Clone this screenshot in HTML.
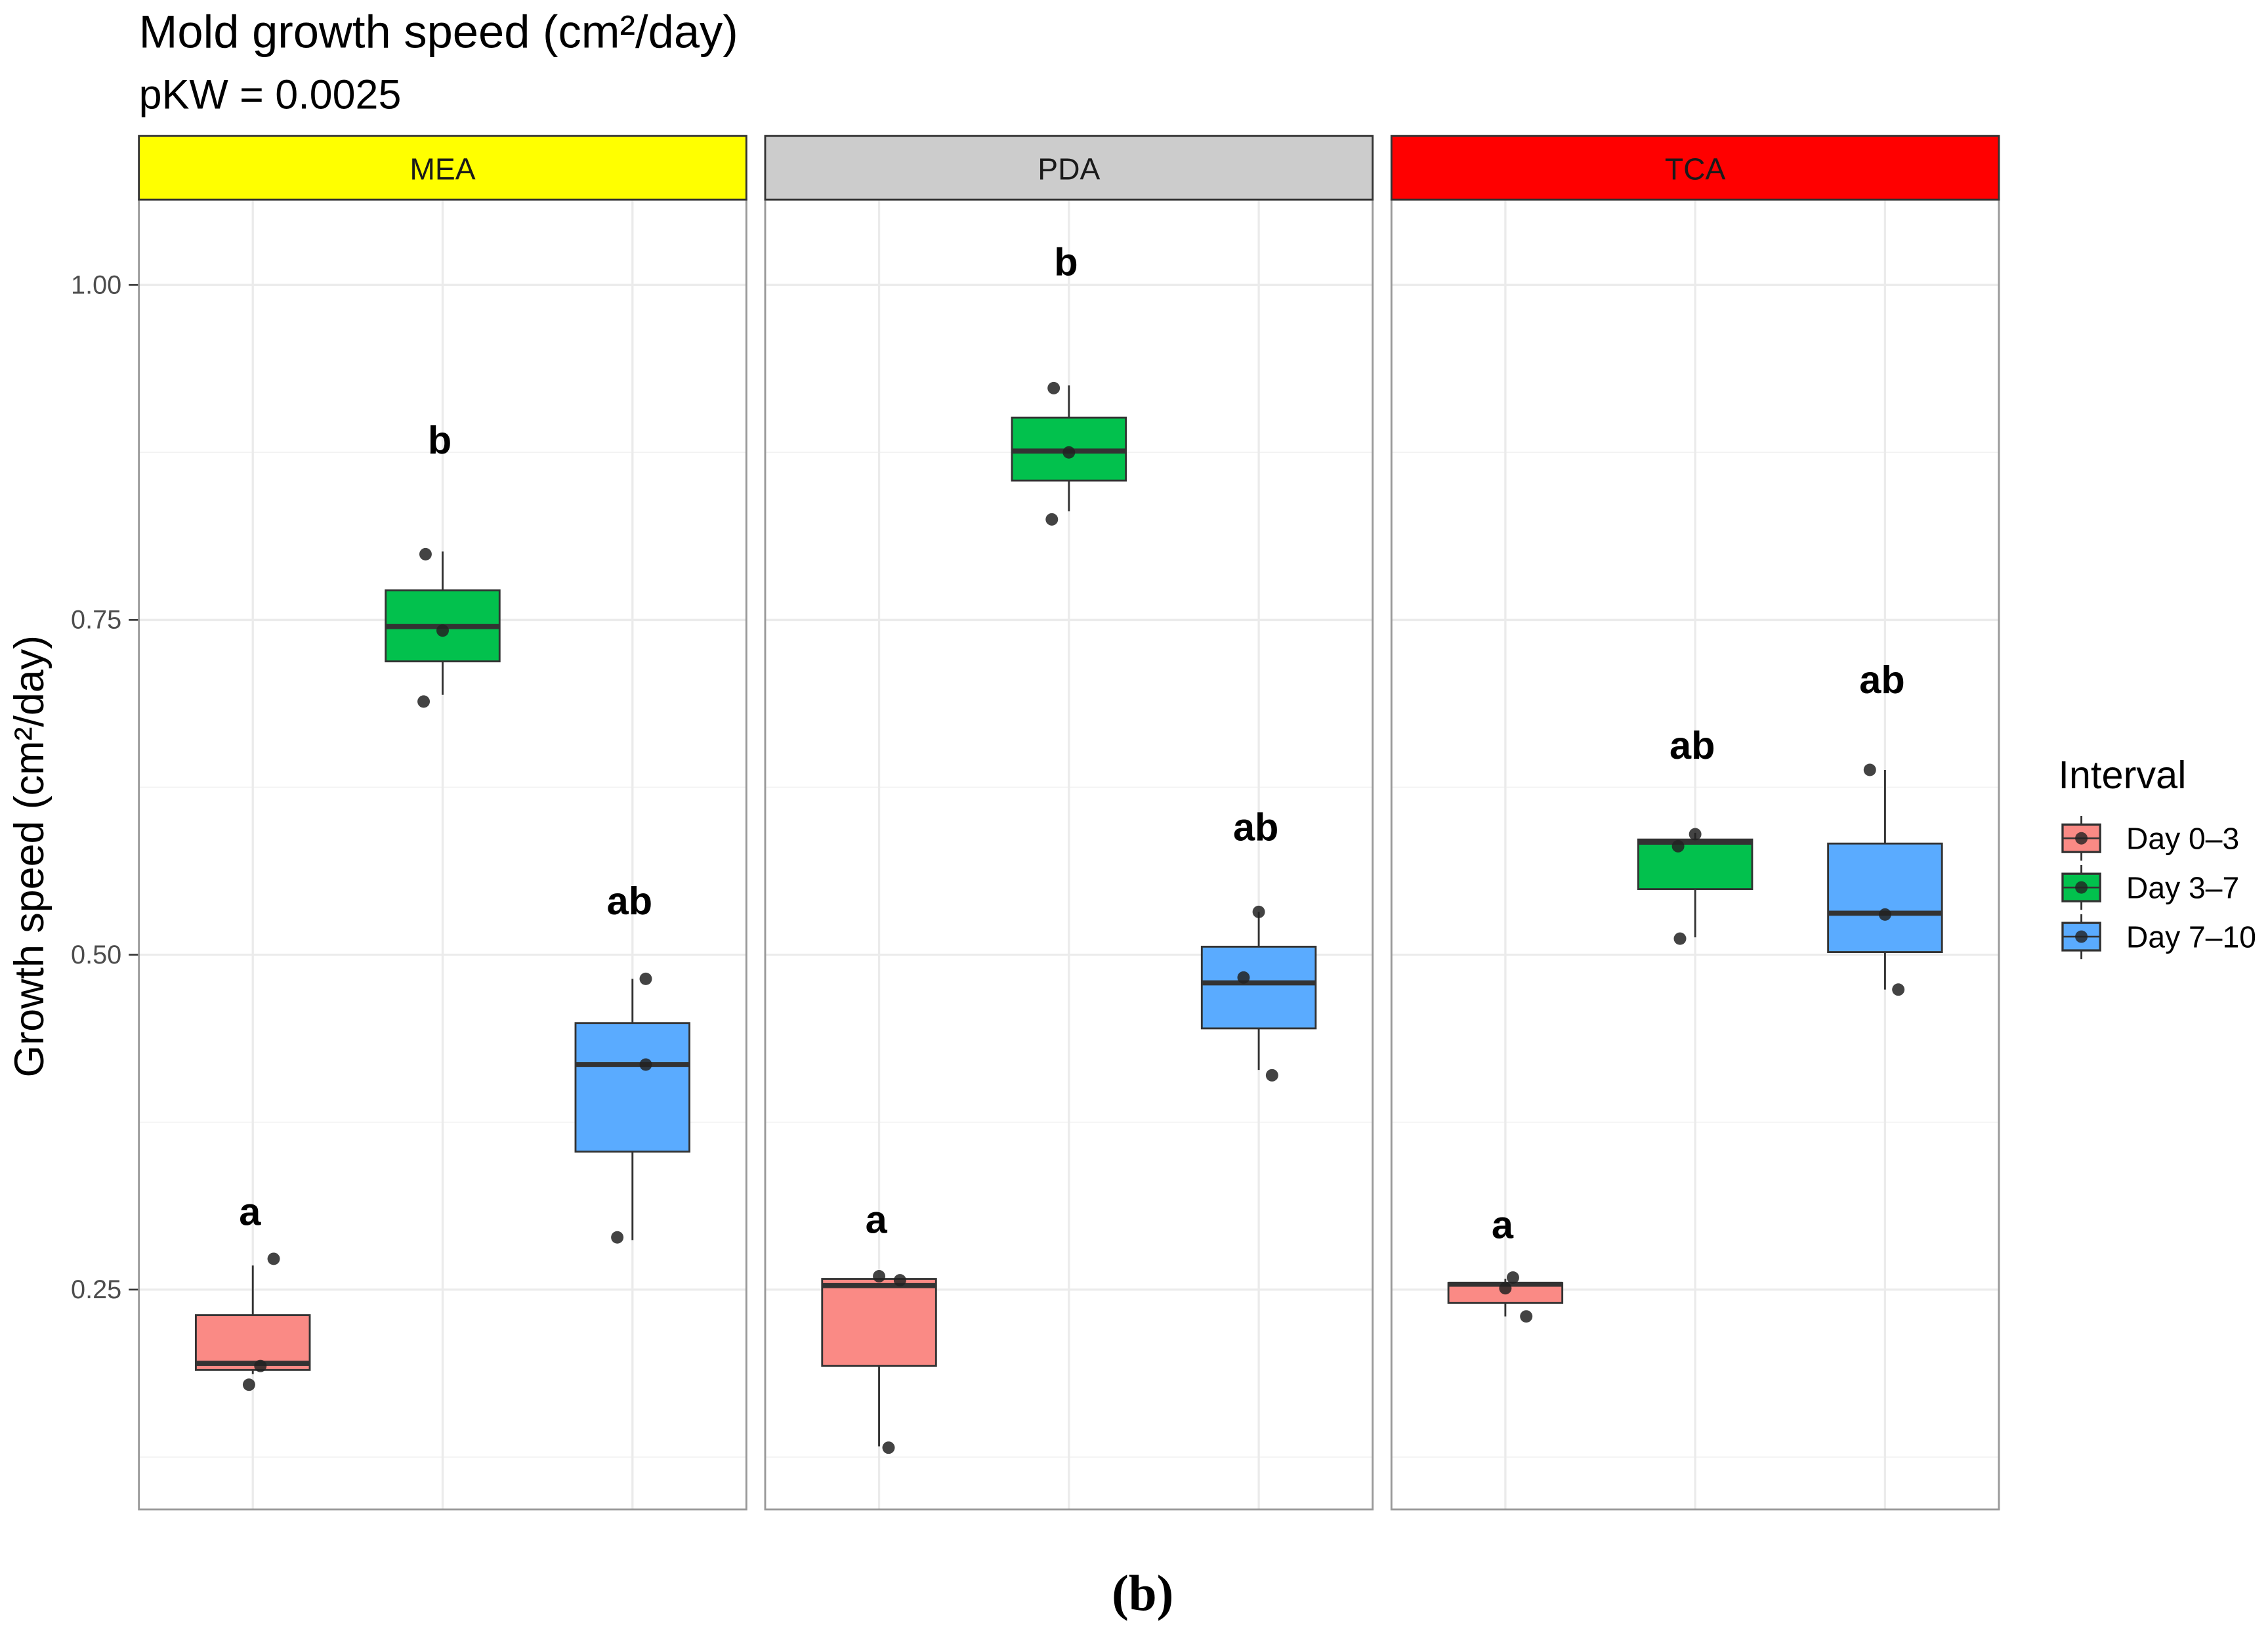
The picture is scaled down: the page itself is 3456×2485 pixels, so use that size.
<!DOCTYPE html>
<html><head><meta charset="utf-8">
<style>
html,body{margin:0;padding:0;background:#fff;}
svg{display:block;}
text{font-family:"Liberation Sans",Arial,sans-serif;}
</style></head>
<body>
<svg id="chart" xmlns="http://www.w3.org/2000/svg" width="3456" height="2485" viewBox="0 0 1568 1127.5">
<rect width="1568" height="1127.5" fill="#fff"/>
<text x="96" y="33" font-size="32" fill="#000">Mold growth speed (cm²/day)</text>
<text x="96" y="75" font-size="28.5" fill="#000">pKW = 0.0025</text>
<text transform="translate(30,592) rotate(-90)" text-anchor="middle" font-size="28.5" fill="#000">Growth speed (cm²/day)</text>
<text x="790" y="1113" text-anchor="middle" font-size="35" font-weight="bold" style="font-family:'Liberation Serif',serif">(b)</text>
<g id="panels"></g>
<g id="legend">
<text x="1423" y="545" font-size="27" fill="#000">Interval</text>
</g>
</svg>
<script>
const facets = ["MEA","PDA","TCA"];
const facetColors = ["#ffff00","#cccccc","#ff0000"];
const intervals = ["Day 0–3","Day 3–7","Day 7–10"];
const fillColors = ["#fa8a85","#02c14d","#5aabff"];
const yTicks = [0.25,0.50,0.75,1.00];
const yTickLabels = ["0.25","0.50","0.75","1.00"];
const yMinor = [0.125,0.375,0.625,0.875];
// per facet, per interval: [lower whisker, q1, median, q3, upper whisker]
const boxMEA = [[0.187,0.190,0.195,0.231,0.268],[0.694,0.719,0.745,0.772,0.801],[0.287,0.353,0.418,0.449,0.482]];
const boxPDA = [[0.133,0.193,0.253,0.258,0.258],[0.831,0.854,0.876,0.901,0.925],[0.414,0.445,0.479,0.506,0.532]];
const boxTCA = [[0.230,0.240,0.254,0.255,0.258],[0.513,0.549,0.584,0.586,0.591],[0.474,0.502,0.531,0.583,0.638]];
// observed points (values)
const ptsMEA = [[0.273,0.193,0.179],[0.799,0.742,0.689],[0.482,0.418,0.289]];
const ptsPDA = [[0.260,0.257,0.132],[0.923,0.875,0.825],[0.532,0.483,0.410]];
const ptsTCA = [[0.259,0.251,0.230],[0.590,0.581,0.512],[0.638,0.530,0.474]];
const jitter = [[[0.11,0.04,-0.02],[-0.09,0,-0.1],[0.07,0.07,-0.08]],[[0,0.11,0.05],[-0.08,0,-0.09],[0,-0.08,0.07]],[[0.04,0,0.11],[0,-0.09,-0.08],[-0.08,0,0.07]]];
const letters = [["a","b","ab"],["a","b","ab"],["a","ab","ab"]];
const letterY = [[0.308,0.884,0.540],[0.302,1.017,0.595],[0.298,0.656,0.705]];

const boxes=[boxMEA,boxPDA,boxTCA], pts=[ptsMEA,ptsPDA,ptsTCA];
const NS="http://www.w3.org/2000/svg";
const panelLeft=[96,529,962], panelW=420, plotTop=138, plotBottom=1043.5, stripTop=94;
const yScale=v=>197+(1-v)*926;
const unit=panelW/3.2;
const xc=(p,i)=>panelLeft[p]+unit*(0.6+i);
function mk(tag,attrs,parent){const e=document.createElementNS(NS,tag);for(const k in attrs)e.setAttribute(k,attrs[k]);parent.appendChild(e);return e;}
const root=document.getElementById('panels');
yTicks.forEach((t,i)=>{
  const tl=mk('line',{x1:89,x2:96,y1:yScale(t),y2:yScale(t),stroke:'#333','stroke-width':1.2},root);
  
  
  const tx=mk('text',{x:84,y:yScale(t)+6,'text-anchor':'end','font-size':18,fill:'#4d4d4d'},root);
  tx.textContent=yTickLabels[i];
  
  
});
facets.forEach((f,p)=>{
  const g=mk('g',{},root);
  
  
  const L=panelLeft[p];
  yMinor.forEach(t=>mk('line',{x1:L,x2:L+panelW,y1:yScale(t),y2:yScale(t),stroke:'#f2f2f2','stroke-width':0.8},g));
  yTicks.forEach(t=>mk('line',{x1:L,x2:L+panelW,y1:yScale(t),y2:yScale(t),stroke:'#ebebeb','stroke-width':1.5},g));
  for(let i=0;i<3;i++)mk('line',{x1:xc(p,i),x2:xc(p,i),y1:plotTop,y2:plotBottom,stroke:'#ebebeb','stroke-width':1.5},g);
  for(let i=0;i<3;i++){
    const b=boxes[p][i], cx=xc(p,i), hw=unit*0.3;
    const bg=mk('g',{},g);
    
    
    mk('line',{x1:cx,x2:cx,y1:yScale(b[4]),y2:yScale(b[3]),stroke:'#333','stroke-width':1.3},bg);
    mk('line',{x1:cx,x2:cx,y1:yScale(b[1]),y2:yScale(b[0]),stroke:'#333','stroke-width':1.3},bg);
    mk('rect',{x:cx-hw,y:yScale(b[3]),width:2*hw,height:Math.max(1,yScale(b[1])-yScale(b[3])),fill:fillColors[i],stroke:'#333','stroke-width':1.3},bg);
    mk('line',{x1:cx-hw,x2:cx+hw,y1:yScale(b[2]),y2:yScale(b[2]),stroke:'#333','stroke-width':3.5},bg);
    pts[p][i].forEach((v,k)=>{
      const c=mk('circle',{cx:cx+jitter[p][i][k]*unit,cy:yScale(v),r:4.3,fill:'#222','fill-opacity':0.85},bg);
      
      
    });
    const lt=mk('text',{x:cx-2,y:yScale(letterY[p][i])+9,'text-anchor':'middle','font-size':27,'font-weight':'bold',fill:'#000'},g);
    lt.textContent=letters[p][i];
    
    
  }
  mk('rect',{x:L,y:plotTop,width:panelW,height:plotBottom-plotTop,fill:'none',stroke:'#999','stroke-width':1.3},g);
  const s=mk('rect',{x:L,y:stripTop,width:panelW,height:plotTop-stripTop,fill:facetColors[p],stroke:'#333','stroke-width':1.3},g);
  
  
  const st=mk('text',{x:L+panelW/2,y:124,'text-anchor':'middle','font-size':21,fill:'#1a1a1a'},g);
  st.textContent=f;
  
  
});
const lg=document.getElementById('legend');
intervals.forEach((n,i)=>{
  const ty=567+i*34;
  const e=mk('g',{},lg);
  
  
  mk('line',{x1:1439,x2:1439,y1:ty-3,y2:ty+28,stroke:'#333','stroke-width':1.3},e);
  mk('rect',{x:1426,y:ty+3,width:26,height:19,fill:fillColors[i],stroke:'#333','stroke-width':1.5},e);
  mk('line',{x1:1426,x2:1452,y1:ty+12.5,y2:ty+12.5,stroke:'#333','stroke-width':1.2},e);
  mk('circle',{cx:1439,cy:ty+12.5,r:4.3,fill:'#222','fill-opacity':0.8},e);
  const t=mk('text',{x:1470,y:ty+20,'font-size':21,fill:'#000'},e);
  t.textContent=n;
});
</script>
</body></html>
